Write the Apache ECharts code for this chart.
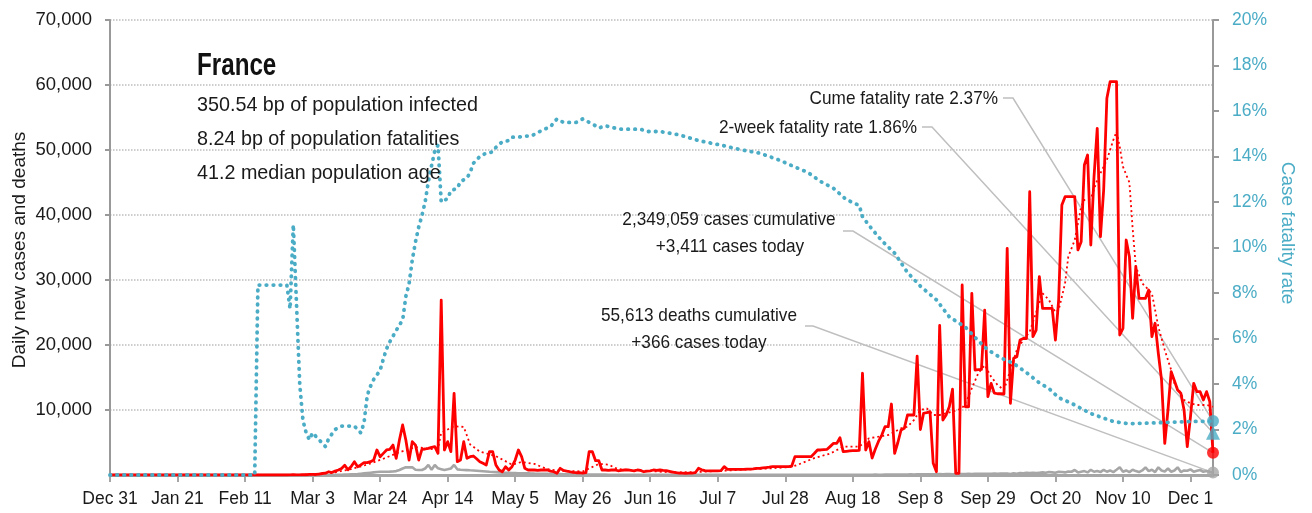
<!DOCTYPE html>
<html>
<head>
<meta charset="utf-8">
<script src="https://cdn.jsdelivr.net/npm/echarts@6/dist/echarts.min.js"></script>
<style>
html, body { margin: 0; padding: 0; background: #fff; }
#chart { width: 1312px; height: 513px; }
</style>
</head>
<body>
<div id="chart"></div>
<script>
var FONT = '"Liberation Sans", Arial, sans-serif';
var TEAL = '#4bacc6';

// one category per day, Dec 31 2019 .. Dec 8 2020
var monthNames = ['Jan', 'Feb', 'Mar', 'Apr', 'May', 'Jun', 'Jul', 'Aug', 'Sep', 'Oct', 'Nov', 'Dec'];
var categories = [];
for (var i = 0; i < 344; i++) {
    var dt = new Date(2019, 11, 31 + i);
    categories.push(monthNames[dt.getMonth()] + ' ' + dt.getDate());
}

// daily new cases
var cases = [
    0, 0, 0, 0, 0, 0, 0, 0, 0, 0,
    0, 0, 0, 0, 0, 0, 0, 0, 0, 0,
    0, 0, 0, 0, 0, 0, 0, 0, 0, 0,
    0, 0, 0, 0, 0, 0, 0, 0, 0, 0,
    0, 0, 0, 0, 0, 0, 0, 0, 0, 0,
    0, 0, 0, 0, 0, 0, 20, 40, 20, 30,
    60, 40, 90, 110, 80, 150, 230, 280, 500, 370,
    600, 770, 1000, 1500, 800, 1300, 2050, 1280, 1540, 1900,
    1900, 2050, 2300, 3850, 2820, 3330, 3850, 3950, 4600, 2560,
    5380, 7700, 5380, 2300, 5130, 4600, 2300, 3950, 4000, 4100,
    4260, 4360, 3340, 26900, 3850, 5130, 3590, 12570, 2050, 2300,
    5130, 2560, 2820, 2920, 2500, 2050, 1800, 1540, 3590, 3590,
    1540, 770, 500, 1280, 770, 1280, 2300, 3850, 2820, 1030,
    770, 770, 770, 700, 770, 770, 770, 600, 500, 260,
    1030, 700, 600, 500, 400, 350, 350, 300, 350, 3590,
    3590, 2200, 2200, 770, 770, 700, 770, 800, 650, 700,
    770, 800, 700, 650, 770, 700, 500, 600, 650, 770,
    700, 770, 700, 660, 550, 450, 350, 300, 280, 260,
    280, 300, 350, 1030, 800, 660, 650, 630, 620, 640,
    660, 1280, 870, 870, 870, 880, 880, 880, 900, 900,
    950, 1030, 1030, 1100, 1150, 1200, 1280, 1280, 1280, 1280,
    1300, 1300, 1380, 2820, 2820, 2820, 2820, 2820, 2820, 3300,
    3850, 3850, 3900, 3950, 4400, 4870, 4870, 5740, 3590, 3650,
    3700, 3740, 3740, 3800, 15650, 3850, 5130, 2600, 4000, 5200,
    6150, 7430, 7430, 10920, 3330, 5000, 6920, 7180, 9230, 9230,
    9230, 18300, 7000, 9500, 9600, 9740, 1800, 500, 23000, 8460,
    9230, 10500, 13200, 260, 260, 29230, 10500, 10500, 27950, 16150,
    16200, 16260, 25380, 12050, 14100, 12600, 12500, 12500, 12460, 34880,
    11030, 17950, 18200, 20770, 21000, 21000, 43590, 21280, 22300, 30510,
    25640, 25640, 25640, 25640, 20770, 26920, 41540, 42820, 42820, 42820,
    42820, 34620, 35900, 47690, 49230, 35380, 45890, 53330, 36660, 43850,
    57960, 60510, 60510, 60510, 21540, 22570, 36150, 33590, 24110, 32050,
    27180, 27180, 27180, 28460, 21280, 23340, 18720, 14620, 4870, 10000,
    15890, 14500, 13080, 12570, 10000, 4360, 8970, 14110, 12820, 12820,
    11540, 12820, 11280, 3411
];

// daily new deaths
var deaths = [
    0, 0, 0, 0, 0, 0, 0, 0, 0, 0,
    0, 0, 0, 0, 0, 0, 0, 0, 0, 0,
    0, 0, 0, 0, 0, 0, 0, 0, 0, 0,
    0, 0, 0, 0, 0, 0, 0, 0, 0, 0,
    0, 0, 0, 0, 0, 0, 0, 0, 0, 0,
    0, 0, 0, 0, 0, 0, 0, 0, 0, 0,
    0, 0, 0, 0, 0, 0, 0, 0, 0, 0,
    20, 30, 40, 60, 80, 100, 120, 150, 200, 250,
    300, 350, 400, 450, 500, 500, 500, 520, 550, 600,
    770, 1000, 1180, 1200, 1180, 800, 770, 770, 1000, 1540,
    800, 1540, 1030, 900, 770, 870, 1000, 1540, 870, 800,
    770, 750, 720, 700, 660, 620, 580, 540, 500, 470,
    440, 400, 370, 350, 330, 310, 300, 280, 270, 260,
    250, 230, 210, 200, 190, 180, 170, 160, 150, 140,
    130, 120, 110, 100, 100, 90, 90, 80, 80, 80,
    70, 70, 60, 60, 60, 50, 50, 50, 50, 50,
    40, 40, 40, 40, 40, 30, 30, 30, 30, 30,
    30, 30, 30, 30, 30, 30, 30, 30, 30, 30,
    30, 30, 30, 30, 30, 30, 30, 30, 30, 30,
    30, 30, 30, 30, 30, 30, 30, 30, 30, 30,
    30, 30, 30, 30, 30, 30, 30, 30, 30, 30,
    30, 30, 30, 30, 30, 30, 30, 30, 30, 30,
    30, 30, 30, 30, 30, 30, 30, 30, 30, 30,
    30, 40, 30, 40, 50, 40, 40, 50, 60, 50,
    50, 60, 70, 60, 60, 70, 80, 70, 80, 90,
    80, 90, 100, 90, 110, 100, 120, 110, 130, 120,
    130, 140, 120, 150, 140, 160, 150, 170, 160, 180,
    170, 190, 180, 200, 190, 210, 200, 220, 210, 230,
    150, 250, 200, 300, 250, 350, 300, 350, 300, 350,
    400, 350, 450, 400, 350, 500, 450, 400, 550, 500,
    770, 400, 500, 600, 400, 800, 500, 600, 450, 800,
    500, 700, 450, 800, 1180, 500, 700, 450, 800, 600,
    450, 700, 1180, 600, 800, 450, 1180, 700, 550, 1000,
    500, 700, 1180, 450, 700, 650, 870, 500, 650, 770,
    500, 600, 450, 366
];

// smoothed new cases (dotted red), [day, value]
var casesAvg = [
    [0, 0], [55, 0], [60, 40], [65, 130], [70, 420], [75, 900], [80, 1600], [85, 2500],
    [90, 3500], [95, 4300], [100, 4000], [102, 4100], [103, 6500], [107, 7500], [110, 7400],
    [112, 4700], [115, 3600], [120, 2900], [125, 1600], [128, 2000], [132, 1700], [136, 900],
    [140, 650], [147, 550], [149, 1000], [152, 1700], [155, 1600], [158, 900], [165, 700],
    [175, 400], [182, 450], [190, 650], [196, 800], [205, 1000], [212, 1250], [214, 1600],
    [219, 2600], [224, 3300], [228, 4360], [233, 4360], [236, 5640], [239, 5890], [242, 6150],
    [244, 6660], [246, 7180], [248, 7430], [250, 8460], [252, 10000], [254, 10260], [256, 9230],
    [258, 9230], [260, 9490], [262, 9740], [265, 10260], [267, 12050], [268, 13340], [270, 15650],
    [272, 16920], [274, 15120], [276, 13850], [278, 13080], [280, 16150], [282, 19230], [284, 20770],
    [286, 22050], [290, 27950], [292, 26920], [294, 25000], [295, 25380], [297, 29490], [298, 33590],
    [300, 36150], [302, 41280], [303, 42310], [305, 42500], [307, 45380], [308, 46410], [310, 48460],
    [312, 51540], [313, 52820], [314, 50510], [315, 47430], [317, 45000], [318, 38000], [319, 32050],
    [321, 29490], [322, 28970], [324, 27950], [325, 25380], [326, 22800], [328, 19230], [330, 16150],
    [331, 14100], [333, 12570], [334, 11540], [336, 11030], [338, 10770], [341, 10770], [343, 10500]
];

// case fatality rate in %, [day, value]
var cfr = [
    [0, 0], [45, 0], [46, 8.35], [50, 8.35], [55, 8.35], [56, 7.3], [57, 11.0], [58, 7.5],
    [59, 4.0], [60, 2.4], [61, 1.85], [62, 1.55], [63, 1.85], [64, 1.7], [65, 1.55], [66, 1.4],
    [67, 1.25], [68, 1.6], [70, 2.0], [72, 2.15], [74, 2.15], [76, 2.15], [78, 1.85], [79, 2.3],
    [80, 3.5], [81, 3.9], [82, 4.2], [84, 4.6], [85, 5.1], [86, 5.55], [87, 5.85], [88, 6.1],
    [90, 6.6], [91, 6.8], [92, 7.85], [93, 8.4], [94, 9.45], [95, 10.25], [96, 10.9], [97, 11.4],
    [98, 12.0], [99, 12.9], [100, 13.6], [101, 14.25], [102, 14.5], [103, 12.0], [105, 12.15],
    [106, 12.5], [108, 12.6], [109, 12.9], [111, 13.05], [112, 13.3], [113, 13.7], [115, 14.0],
    [117, 14.15], [119, 14.2], [120, 14.4], [122, 14.65], [124, 14.7], [125, 14.85], [127, 14.85],
    [129, 14.9], [131, 14.9], [133, 15.05], [135, 15.2], [137, 15.3], [138, 15.5], [139, 15.65],
    [141, 15.5], [143, 15.5], [145, 15.5], [147, 15.65], [149, 15.5], [151, 15.35], [152, 15.25],
    [154, 15.35], [157, 15.25], [159, 15.2], [165, 15.2], [167, 15.1], [171, 15.1], [177, 14.95],
    [183, 14.7], [190, 14.5], [196, 14.3], [202, 14.15], [208, 13.85], [212, 13.6], [217, 13.3],
    [221, 12.9], [225, 12.6], [229, 12.1], [233, 11.85], [234, 11.35], [237, 10.8], [240, 10.3],
    [244, 9.75], [248, 8.9], [252, 8.3], [257, 7.7], [261, 6.95], [266, 6.5], [270, 5.9],
    [273, 5.5], [277, 5.15], [281, 4.9], [285, 4.5], [289, 4.05], [292, 3.8], [295, 3.4],
    [299, 3.15], [305, 2.7], [312, 2.35], [317, 2.25], [327, 2.3], [336, 2.35], [343, 2.37]
];

var lastDay = 343;
var casesToday = 3411;
var deathsToday = 366;
var cumeFatalityRate = 2.37;
var twoWeekFatalityRate = 1.86;

var country = 'France';
var infoLines = [
    '350.54 bp of population infected',
    '8.24 bp of population fatalities',
    '41.2 median population age'
];

var chart = echarts.init(document.getElementById('chart'));

var option = {
    animation: false,
    grid: {left: 110, right: 99, top: 20, bottom: 38},
    xAxis: {
        type: 'category',
        data: categories,
        boundaryGap: false,
        axisLine: {lineStyle: {color: '#a6a6a6', width: 3}},
        axisTick: {interval: 20, length: 7, lineStyle: {color: '#a6a6a6', width: 2}},
        axisLabel: {interval: 20, margin: 15, fontSize: 17.5, fontFamily: FONT, color: '#1a1a1a'},
        splitLine: {show: false}
    },
    yAxis: [
        {
            type: 'value', min: 0, max: 70000, interval: 10000, position: 'left',
            axisLine: {show: true, lineStyle: {color: '#999', width: 2}},
            axisTick: {show: true, length: 5, lineStyle: {color: '#999', width: 2}},
            axisLabel: {
                showMinLabel: false, margin: 18, fontSize: 18.5, fontFamily: FONT, color: '#1a1a1a',
                formatter: function (v) { return v.toLocaleString('en-US'); }
            },
            splitLine: {show: true, lineStyle: {type: 'dotted', color: '#bdbdbd', width: 1.5}}
        },
        {
            type: 'value', min: 0, max: 20, interval: 2, position: 'right',
            axisLine: {show: true, lineStyle: {color: '#999', width: 2}},
            axisTick: {show: true, length: 6, lineStyle: {color: '#999', width: 2}},
            axisLabel: {margin: 19, fontSize: 17.5, fontFamily: FONT, color: TEAL, formatter: '{value}%'},
            splitLine: {show: false}
        }
    ],
    series: [
        {
            name: 'deaths', type: 'line', data: deaths, showSymbol: false, silent: true,
            lineStyle: {color: '#a6a6a6', width: 2.6}, z: 2
        },
        {
            name: 'cases avg', type: 'line', data: casesAvg, showSymbol: false, silent: true,
            lineStyle: {color: '#ff0000', width: 1.8, type: [2, 3]}, z: 3
        },
        {
            name: 'cases', type: 'line', data: cases, showSymbol: false, silent: true,
            lineStyle: {color: '#ff0000', width: 2.8, join: 'round'}, z: 4
        },
        {
            name: 'cfr', type: 'line', yAxisIndex: 1, data: cfr, showSymbol: false, silent: true,
            lineStyle: {color: TEAL, width: 3.8, type: [0.5, 6.5], cap: 'round'}, z: 5
        },
        {
            type: 'scatter', silent: true, z: 10,
            data: [
                {value: [lastDay, casesToday], symbol: 'circle', symbolSize: 12, itemStyle: {color: '#ff0000'}},
                {value: [lastDay, deathsToday], symbol: 'circle', symbolSize: 12, itemStyle: {color: '#a6a6a6'}}
            ]
        },
        {
            type: 'scatter', yAxisIndex: 1, silent: true, z: 10,
            data: [
                {value: [lastDay, cumeFatalityRate], symbol: 'circle', symbolSize: 12, itemStyle: {color: TEAL}},
                {value: [lastDay, twoWeekFatalityRate], symbol: 'triangle', symbolSize: 14, itemStyle: {color: TEAL}}
            ]
        }
    ]
};
chart.setOption(option);

// text blocks and leader lines
function px(val, axis) {
    return chart.convertToPixel({xAxisIndex: 0, yAxisIndex: axis}, [lastDay, val]);
}
function leader(x0, x1, y, end) {
    return {
        type: 'polyline', silent: true, z: 0,
        shape: {points: [[x0, y], [x1, y], end]},
        style: {stroke: '#bfbfbf', lineWidth: 1.5, fill: null}
    };
}
// narrowed text, to get close to the condensed face of the original
function label(txt, x, y, size, sx, align, extra) {
    var el = {
        type: 'text', x: x, y: y, scaleX: sx, silent: true, z: 20,
        style: {
            text: txt, fontSize: size, fontFamily: FONT, fill: '#1a1a1a',
            align: align, verticalAlign: 'middle'
        }
    };
    for (var k in extra || {}) {
        if (k === 'rotation') el.rotation = extra[k]; else el.style[k] = extra[k];
    }
    if (el.rotation) { el.scaleY = sx; el.scaleX = 1; }
    return el;
}

var elements = [
    leader(1003, 1013, 98, px(cumeFatalityRate, 1)),
    leader(922, 932, 127, px(twoWeekFatalityRate, 1)),
    leader(843, 853, 231, px(casesToday, 0)),
    leader(805, 813, 326, px(deathsToday, 0)),
    label(country, 197, 66, 31, 0.78, 'left', {fontWeight: 'bold', fill: '#111'}),
    label(infoLines[0], 197, 105, 21, 0.94, 'left'),
    label(infoLines[1], 197, 139, 21, 0.94, 'left'),
    label(infoLines[2], 197, 173, 21, 0.94, 'left'),
    label('Cume fatality rate ' + cumeFatalityRate.toFixed(2) + '%', 998, 99, 18.5, 0.93, 'right'),
    label('2-week fatality rate ' + twoWeekFatalityRate.toFixed(2) + '%', 917, 128, 18.5, 0.93, 'right'),
    label('2,349,059 cases cumulative', 729, 220, 18.5, 0.93, 'center'),
    label('+' + casesToday.toLocaleString('en-US') + ' cases today', 730, 247, 18.5, 0.93, 'center'),
    label('55,613 deaths cumulative', 699, 316, 18.5, 0.93, 'center'),
    label('+' + deathsToday + ' cases today', 699, 343, 18.5, 0.93, 'center'),
    label('Daily new cases and deaths', 20, 250, 19, 0.92, 'center', {rotation: Math.PI / 2}),
    label('Case fatality rate', 1287, 233, 19, 0.92, 'center', {rotation: -Math.PI / 2, fill: TEAL})
];
chart.setOption({graphic: {elements: elements}});
</script>
</body>
</html>
